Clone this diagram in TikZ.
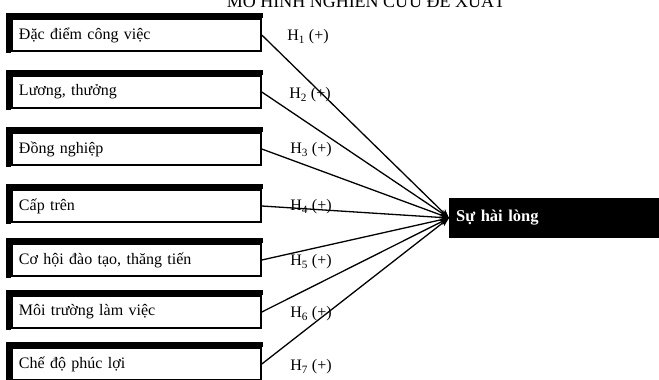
\documentclass[tikz,border=0pt]{standalone}
\usepackage{fontspec}
\setmainfont{Liberation Serif}
\usetikzlibrary{arrows.meta}
\begin{document}
\begin{tikzpicture}[x=1pt,y=-1pt,
  factor/.style={draw=black, line width=1.6pt, fill=white, minimum width=249pt,
    minimum height=32pt, text width=235pt, inner xsep=7pt, align=left,
    font=\fontsize{16}{18}\selectfont},
  band/.style={fill=black},
  hlabel/.style={font=\fontsize{16}{18}\selectfont, inner sep=1pt},
  target/.style={fill=black, text=white, minimum height=40pt, minimum width=215pt,
    text width=203pt, inner xsep=7pt, align=left, anchor=west,
    font=\bfseries\fontsize{16.5}{18}\selectfont},
  link/.style={line width=1.3pt, -{Stealth[length=9pt,width=7pt]}}]
\clip (0,0) rectangle (659,380);
\useasboundingbox (0,0) rectangle (659,380);
\node[anchor=base, font=\fontsize{18}{20}\selectfont] (title) at (366,8) {MÔ HÌNH NGHIÊN CỨU ĐỀ XUẤT};
\foreach \i/\c/\t in {1/35/{Đặc điểm công việc},2/92/{Lương, thưởng},3/149/{Đồng nghiệp},
  4/206/{Cấp trên},5/260/{Cơ hội đào tạo, thăng tiến},6/312/{Môi trường làm việc},
  7/364/{Chế độ phúc lợi}}{
  \node[factor] (f\i) at (136.5,\c) {\t};
  \fill[band] ([xshift=-5pt,yshift=5pt]f\i.north west) rectangle ([xshift=1pt]f\i.north east);
  \fill[band] ([xshift=-5pt,yshift=5pt]f\i.north west) rectangle ([yshift=-1pt]f\i.south west);
}
\node[target] (s) at (449,218) {Sự hài lòng};
\foreach \i in {1,...,7}{ \draw[link] (f\i.east) -- (s.west); }
\node[hlabel] (h1) at (308,37) {H\textsubscript{1} (+)};
\node[hlabel] (h2) at (310,95) {H\textsubscript{2} (+)};
\node[hlabel] (h3) at (311,150) {H\textsubscript{3} (+)};
\node[hlabel] (h4) at (311,207) {H\textsubscript{4} (+)};
\node[hlabel] (h5) at (311,262) {H\textsubscript{5} (+)};
\node[hlabel] (h6) at (311,314) {H\textsubscript{6} (+)};
\node[hlabel] (h7) at (311,367) {H\textsubscript{7} (+)};
\end{tikzpicture}
\end{document}
